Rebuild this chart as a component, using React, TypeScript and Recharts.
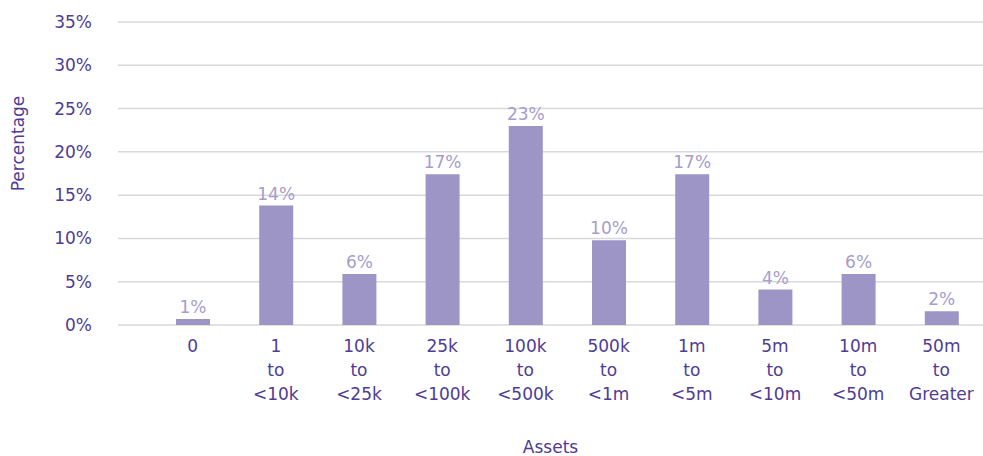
import React from "react";
import { BarChart, Bar, XAxis, YAxis, CartesianGrid, LabelList } from "recharts";

const categories = [
  "0",
  "1 to <10k",
  "10k to <25k",
  "25k to <100k",
  "100k to <500k",
  "500k to <1m",
  "1m to <5m",
  "5m to <10m",
  "10m to <50m",
  "50m to Greater",
];
const percentages = [0.7, 13.8, 5.9, 17.4, 23, 9.8, 17.4, 4.1, 5.9, 1.6];
const valueLabels = ["1%", "14%", "6%", "17%", "23%", "10%", "17%", "4%", "6%", "2%"];
const yTicks = [0, 5, 10, 15, 20, 25, 30, 35];

const data = categories.map((c, i) => ({ category: c, value: percentages[i], label: valueLabels[i] }));

const FONT = "'DejaVu Sans', sans-serif";
const DARK = "#4e3c96";
const LIGHT = "#a69dcc";
const BAR = "#9e95c7";

const XTick = (props: any) => {
  const { x, y, payload } = props;
  const parts = String(payload.value).split(" to ");
  const lines = parts.length > 1 ? [parts[0], "to", parts[1]] : parts;
  return (
    <text x={x} y={y} textAnchor="middle" fill={DARK} fontFamily={FONT} fontSize={17}>
      {lines.map((l, i) => (
        <tspan key={i} x={x} dy={i === 0 ? 19 : 24}>
          {l}
        </tspan>
      ))}
    </text>
  );
};

export default function App() {
  return (
    <div style={{ position: "absolute", left: 0, top: 0, background: "#fff" }}>
      <BarChart width={983} height={456} data={data} margin={{ top: 22, right: 0, left: 0, bottom: 0 }}>
        <CartesianGrid vertical={false} stroke="#d9d9d9" strokeWidth={1.5} />
        <XAxis
          dataKey="category"
          height={131}
          axisLine={false}
          tickLine={false}
          interval={0}
          padding={{ left: 33, right: 0 }}
          tick={<XTick />}
          label={{
            value: "Assets",
            position: "insideBottom",
            offset: 3,
            fill: DARK,
            fontFamily: FONT,
            fontSize: 17,
          }}
        />
        <YAxis
          width={118}
          domain={[0, 35]}
          ticks={yTicks}
          interval={0}
          axisLine={false}
          tickLine={false}
          tickMargin={20}
          tickFormatter={(v: number) => `${v}%`}
          tick={{ fill: DARK, fontFamily: FONT, fontSize: 17 }}
          label={{
            value: "Percentage",
            angle: -90,
            position: "insideLeft",
            offset: 18,
            dy: -30,
            fill: DARK,
            fontFamily: FONT,
            fontSize: 17,
            style: { textAnchor: "middle" },
          }}
        />
        <Bar dataKey="value" fill={BAR} barSize={34} isAnimationActive={false}>
          <LabelList
            dataKey="label"
            position="top"
            offset={6}
            fill={LIGHT}
            fontFamily={FONT}
            fontSize={17}
          />
        </Bar>
      </BarChart>
    </div>
  );
}
